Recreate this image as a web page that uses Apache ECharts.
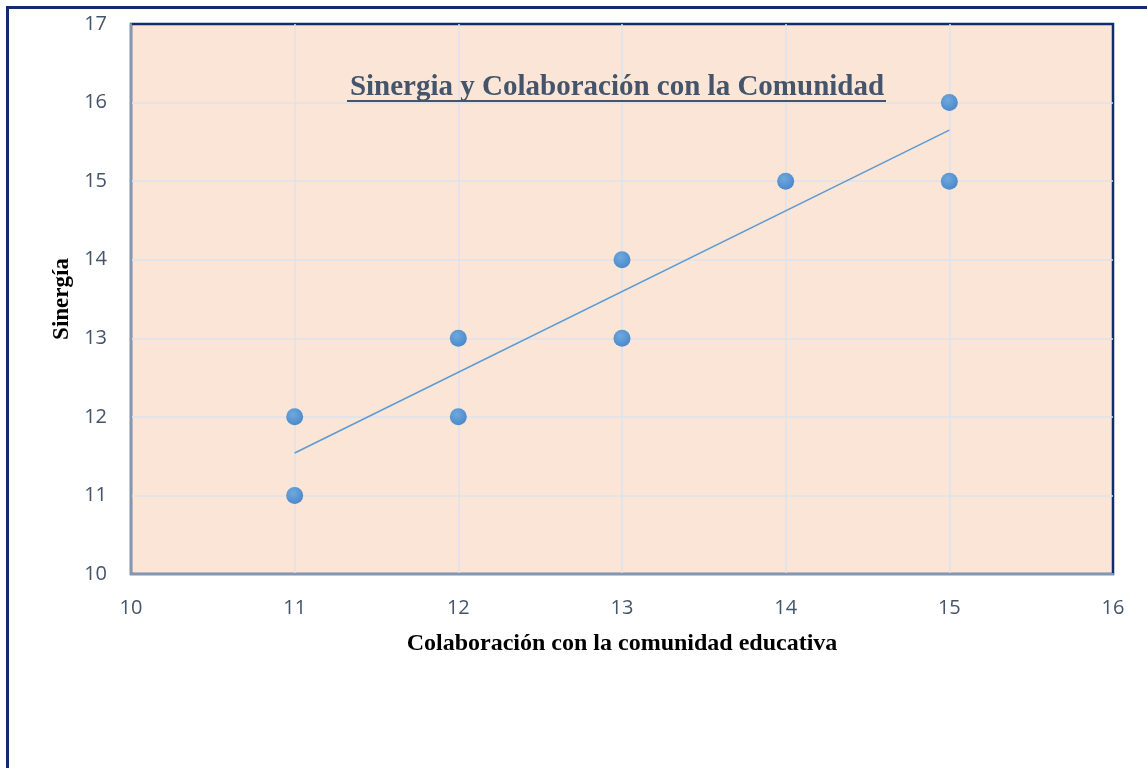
<!DOCTYPE html>
<html>
<head>
    <meta charset="utf-8">
    <title>Sinergia y Colaboración con la Comunidad</title>
    <script src="https://cdn.jsdelivr.net/npm/echarts@6/dist/echarts.min.js"></script>
    <style>
        html, body { margin: 0; padding: 0; background: #ffffff; }
        #chart { width: 1147px; height: 768px; }
    </style>
</head>
<body>
    <div id="chart"></div>
    <script>
        // data
        var colaboracion = [11, 11, 12, 12, 13, 13, 14, 15, 15];
        var sinergia = [12, 11, 13, 12, 14, 13, 15, 16, 15];
        // trend line ends (linear fit as drawn in the picture)
        var trendX = [11, 15];
        var trendY = [11.54, 15.65];

        var points = colaboracion.map(function (x, i) { return [x, sinergia[i]]; });
        var trend = trendX.map(function (x, i) { return [x, trendY[i]]; });

        var labelColor = '#44546A';
        var navy = '#122B6A';

        var chart = echarts.init(document.getElementById('chart'));
        chart.setOption({
            animation: false,
            backgroundColor: '#ffffff',
            grid: {
                left: 131, top: 24, right: 34, bottom: 194,
                show: true,
                backgroundColor: '#FBE5D6',
                borderColor: navy,
                borderWidth: 2.5
            },
            graphic: [
                {
                    type: 'rect',
                    shape: { x: 7.5, y: 7.5, width: 1160, height: 780 },
                    style: { fill: null, stroke: navy, lineWidth: 3 },
                    z: 100
                },
                {
                    type: 'text',
                    x: 617, y: 88,
                    style: {
                        text: 'Sinergia y Colaboración con la Comunidad',
                        font: 'bold 29px "Liberation Serif", "DejaVu Serif", serif',
                        fill: labelColor,
                        align: 'center',
                        verticalAlign: 'middle'
                    },
                    z: 100
                },
                {
                    type: 'line',
                    shape: { x1: 347, y1: 101, x2: 886, y2: 101 },
                    style: { stroke: labelColor, lineWidth: 2 },
                    z: 100
                }
            ],
            xAxis: {
                type: 'value',
                min: 10, max: 16, interval: 1,
                name: 'Colaboración con la comunidad educativa',
                nameLocation: 'middle',
                nameGap: 58,
                nameTextStyle: {
                    fontFamily: '"Liberation Serif", serif',
                    fontWeight: 'bold',
                    fontSize: 24,
                    color: '#000000'
                },
                axisLine: { show: true, onZero: false, lineStyle: { color: '#8497B0', width: 2 } },
                axisTick: { show: false },
                axisLabel: {
                    margin: 24,
                    fontFamily: '"Open Sans", "Liberation Sans", sans-serif',
                    fontSize: 20,
                    color: labelColor
                },
                splitLine: { show: true, showMaxLine: false, lineStyle: { color: '#DCE2EC', width: 1.5 } }
            },
            yAxis: {
                type: 'value',
                min: 10, max: 17, interval: 1,
                name: 'Sinergía',
                nameLocation: 'middle',
                nameGap: 55,
                nameRotate: 90,
                nameTextStyle: {
                    fontFamily: '"Liberation Serif", serif',
                    fontWeight: 'bold',
                    fontSize: 23,
                    color: '#000000'
                },
                axisLine: { show: true, onZero: false, lineStyle: { color: '#8497B0', width: 2 } },
                axisTick: { show: false },
                axisLabel: {
                    margin: 24,
                    fontFamily: '"Open Sans", "Liberation Sans", sans-serif',
                    fontSize: 20,
                    color: labelColor
                },
                splitLine: { show: true, showMaxLine: false, lineStyle: { color: '#DCE2EC', width: 1.5 } }
            },
            series: [
                {
                    type: 'line',
                    data: trend,
                    symbol: 'none',
                    lineStyle: { color: '#5B9BD5', width: 1.5 },
                    z: 2
                },
                {
                    type: 'scatter',
                    data: points,
                    symbolSize: 17,
                    itemStyle: {
                        color: new echarts.graphic.RadialGradient(0.4, 0.35, 0.7, [
                            { offset: 0, color: '#6EA9DF' },
                            { offset: 1, color: '#4A87C8' }
                        ]),
                        opacity: 1
                    },
                    z: 3
                }
            ]
        });
    </script>
</body>
</html>
